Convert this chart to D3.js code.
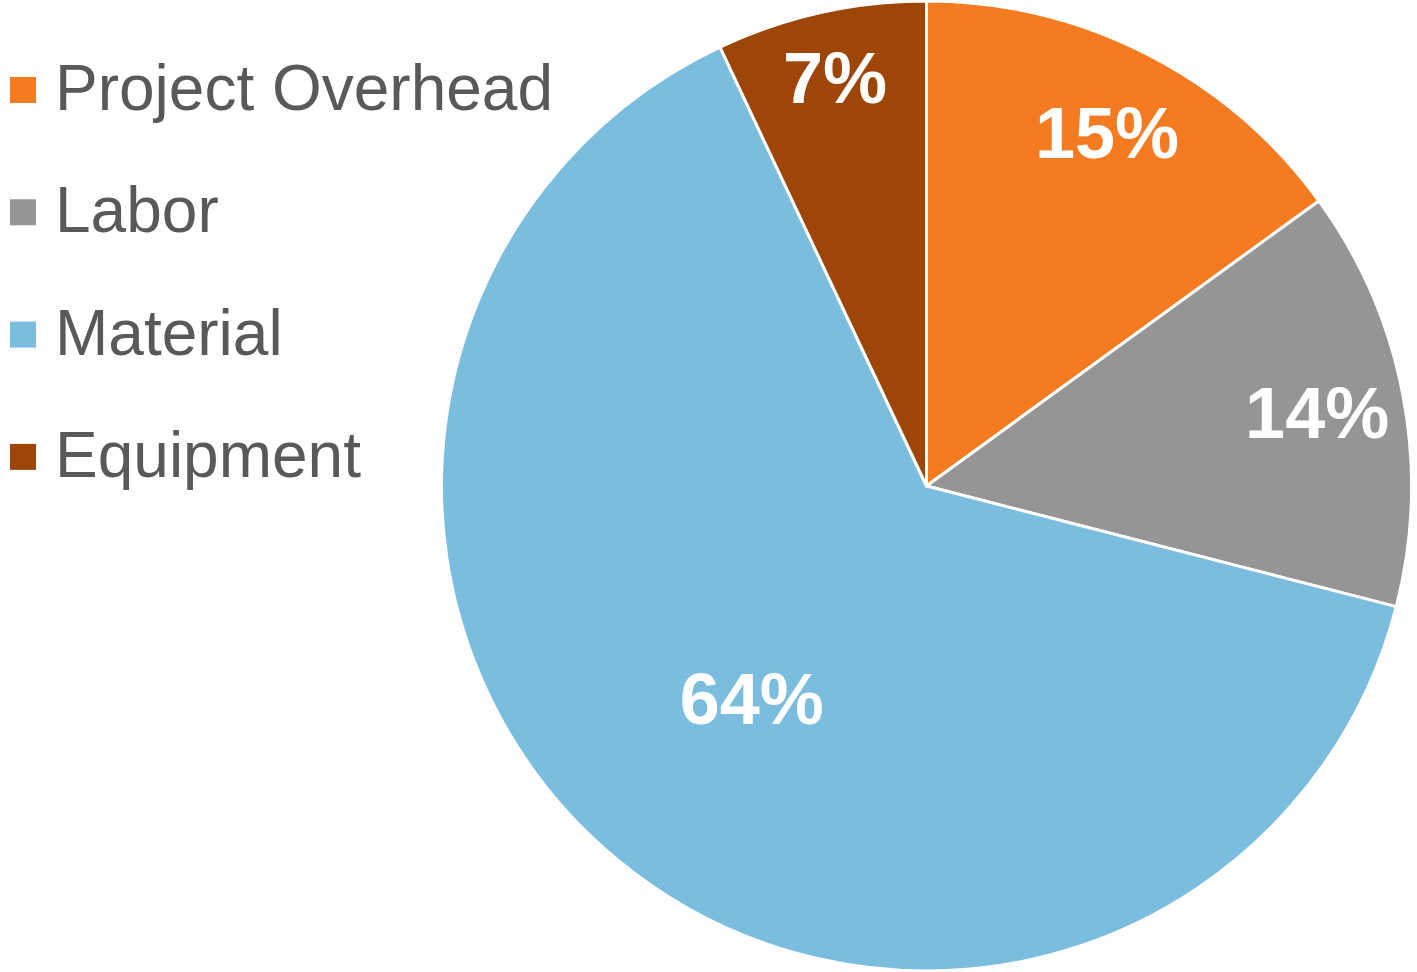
<!DOCTYPE html>
<html>
<head>
<meta charset="utf-8">
<script src="https://cdn.jsdelivr.net/npm/d3@7"></script>
<style>
  html, body { margin: 0; padding: 0; background: #fff; }
  svg { display: block; }
</style>
</head>
<body>
<div id="chart"></div>
<script>
const categories = ['Project Overhead', 'Labor', 'Material', 'Equipment'];
const values = [15, 14, 64, 7];
const colors = ['#F47B20', '#959595', '#7ABDDE', '#9E4608'];

const width = 1417;
const height = 972;
const cx = 926.5;
const cy = 486;
const radius = 485;

const svg = d3.select('#chart').append('svg')
  .attr('width', width)
  .attr('height', height)
  .attr('viewBox', `0 0 ${width} ${height}`);

const data = categories.map((c, i) => ({name: c, value: values[i], color: colors[i]}));

const pie = d3.pie()
  .sort(null)
  .value(d => d.value);

const arc = d3.arc()
  .innerRadius(0)
  .outerRadius(radius);

const arcs = pie(data);

const g = svg.append('g')
  .attr('transform', `translate(${cx},${cy})`);

g.selectAll('path.slice')
  .data(arcs)
  .enter().append('path')
  .attr('class', 'slice')
  .attr('d', arc)
  .attr('fill', d => d.data.color)
  .attr('stroke', '#fff')
  .attr('stroke-width', 3)
  .attr('stroke-linejoin', 'round');

// big slices get their label pulled toward the middle, small ones sit near the rim
function labelRadius(d) {
  const share = (d.endAngle - d.startAngle) / (2 * Math.PI);
  if (share > 0.5) return radius * 0.565;
  if (share < 0.1) return radius * 0.865;
  return radius * 0.82;
}

g.selectAll('text.label')
  .data(arcs)
  .enter().append('text')
  .attr('class', 'label')
  .attr('transform', d => {
    const r = labelRadius(d);
    const c = d3.arc().innerRadius(r).outerRadius(r).centroid(d);
    return `translate(${c[0]},${c[1]})`;
  })
  .attr('text-anchor', 'middle')
  .attr('dy', '0.37em')
  .attr('fill', '#fff')
  .style('font-family', '"Liberation Sans", Arial, sans-serif')
  .style('font-weight', 'bold')
  .style('font-size', '72px')
  .text(d => `${d.data.value}%`);

// legend
const legend = svg.append('g')
  .attr('class', 'legend')
  .attr('transform', 'translate(10, 110)');

const item = legend.selectAll('g.item')
  .data(data)
  .enter().append('g')
  .attr('class', 'item')
  .attr('transform', (d, i) => `translate(0, ${i * 122.3})`);

item.append('rect')
  .attr('x', 0)
  .attr('y', -33)
  .attr('width', 26)
  .attr('height', 26)
  .attr('fill', d => d.color);

item.append('text')
  .attr('x', 45)
  .attr('y', 0)
  .attr('fill', '#595959')
  .style('font-family', '"Liberation Sans", Arial, sans-serif')
  .style('font-size', '64px')
  .text(d => d.name);
</script>
</body>
</html>
